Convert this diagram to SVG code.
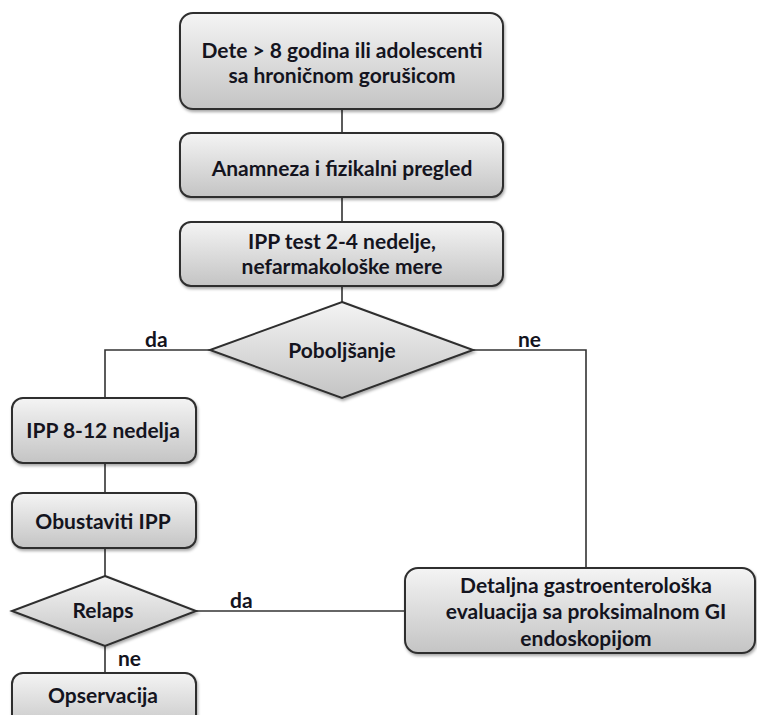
<svg xmlns="http://www.w3.org/2000/svg" width="757" height="715" viewBox="0 0 757 715">
<defs>
<linearGradient id="g" x1="0" y1="0" x2="0" y2="1">
<stop offset="0" stop-color="#f4f4f4"/>
<stop offset="1" stop-color="#c4c4c4"/>
</linearGradient>
<filter id="sh" x="-10%" y="-10%" width="120%" height="130%">
<feDropShadow dx="1" dy="2" stdDeviation="1.5" flood-color="#000" flood-opacity="0.35"/>
</filter>
</defs>
<style>
.n{fill:url(#g);stroke:#2e2e2e;stroke-width:2;filter:url(#sh)}
.t{font-family:Lato,"Liberation Sans",sans-serif;font-weight:700;font-size:21px;fill:#14141e;text-anchor:middle}
.l{font-family:Lato,"Liberation Sans",sans-serif;font-weight:700;font-size:21px;fill:#14141e}
.c{fill:none;stroke:#333;stroke-width:1.6}
</style>
<rect width="757" height="715" fill="#fff"/>
<g id="connectors">
<path class="c" d="M342 109V133M342 197V222M342 286V302"/>
<path class="c" d="M210 350H105V398"/>
<path class="c" d="M473 350H586V568"/>
<path class="c" d="M105 463V493M105 548V576"/>
<path class="c" d="M196 611H405"/>
<path class="c" d="M105 646V673"/>
<text class="l" x="145" y="347">da</text>
<text class="l" x="518" y="347">ne</text>
<text class="l" x="230" y="608">da</text>
<text class="l" x="118" y="666">ne</text>
</g>
<g id="n1"><rect class="n" x="180" y="13" width="323" height="96" rx="13"/>
<text class="t" x="342" y="58">Dete &gt; 8 godina ili adolescenti</text>
<text class="t" x="342" y="83">sa hroničnom gorušicom</text></g>
<g id="n2"><rect class="n" x="180" y="133" width="323" height="64" rx="11"/>
<text class="t" x="342" y="176">Anamneza i fizikalni pregled</text></g>
<g id="n3"><rect class="n" x="180" y="222" width="323" height="64" rx="11"/>
<text class="t" x="342" y="249">IPP test 2-4 nedelje,</text>
<text class="t" x="342" y="274">nefarmakološke mere</text></g>
<g id="d1"><polygon class="n" points="342,302 473,350 342,398 210,350"/>
<text class="t" x="342" y="358">Poboljšanje</text></g>
<g id="n4"><rect class="n" x="12" y="398" width="184" height="65" rx="11"/>
<text class="t" x="103" y="438">IPP 8-12 nedelja</text></g>
<g id="n5"><rect class="n" x="12" y="493" width="184" height="55" rx="11"/>
<text class="t" x="103" y="529">Obustaviti IPP</text></g>
<g id="d2"><polygon class="n" points="105,576 196,611 105,646 12,611"/>
<text class="t" x="103" y="618">Relaps</text></g>
<g id="n6"><rect class="n" x="12" y="673" width="184" height="60" rx="11"/>
<text class="t" x="103" y="703">Opservacija</text></g>
<g id="n7"><rect class="n" x="405" y="568" width="350" height="85" rx="13"/>
<text class="t" x="586" y="593">Detaljna gastroenterološka</text>
<text class="t" x="586" y="619">evaluacija sa proksimalnom GI</text>
<text class="t" x="586" y="646">endoskopijom</text></g>
</svg>
